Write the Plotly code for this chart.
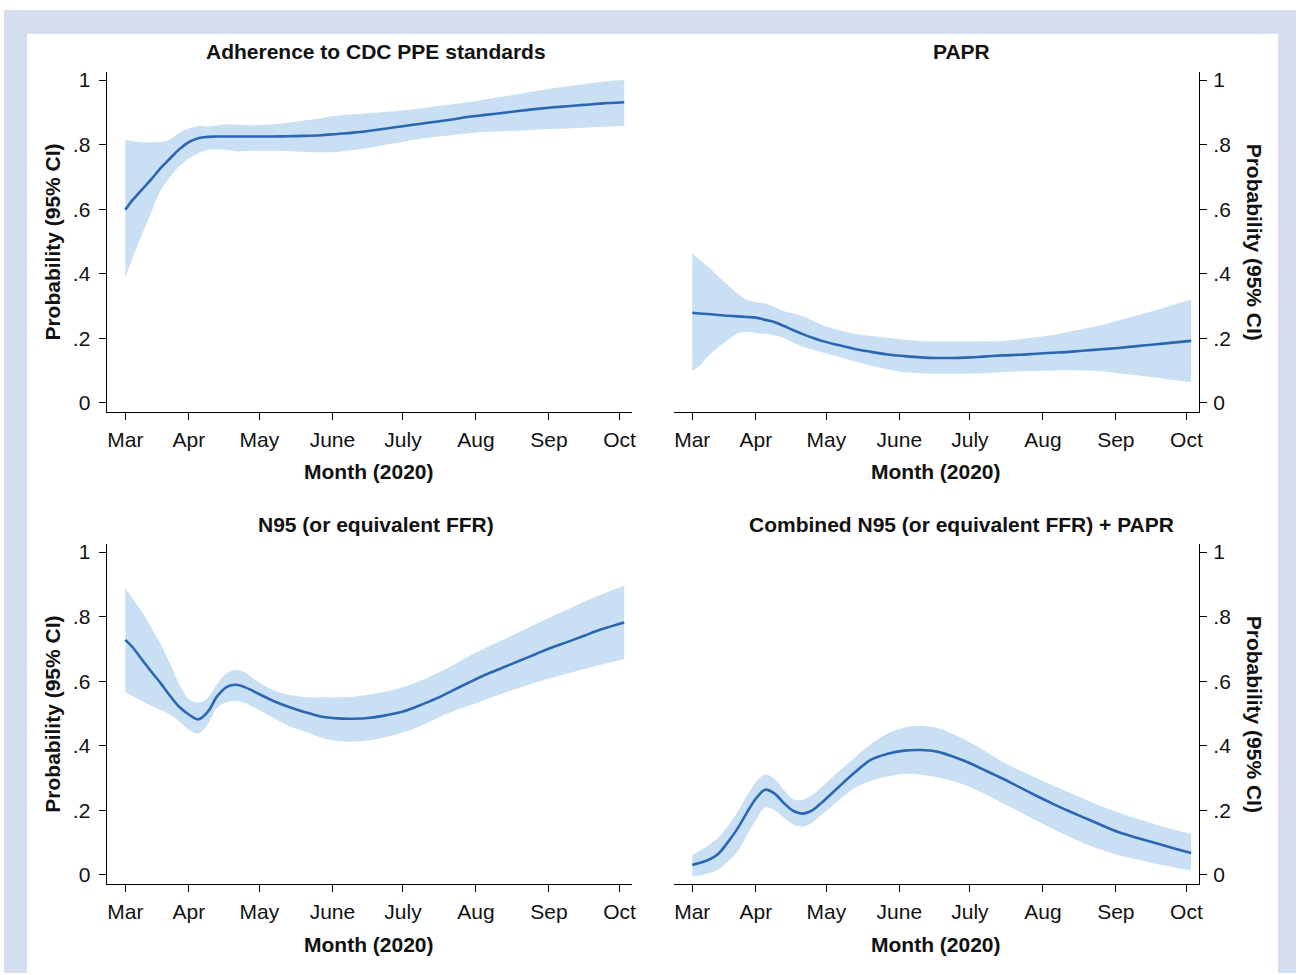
import plotly.graph_objects as go

# ---------------- data ----------------
dates = ["2020-03-05", "2020-03-08", "2020-03-12", "2020-03-16", "2020-03-20", "2020-03-24",
         "2020-03-28", "2020-04-01", "2020-04-05", "2020-04-09", "2020-04-13", "2020-04-17",
         "2020-04-21", "2020-04-25", "2020-04-29", "2020-05-06", "2020-05-13", "2020-05-20",
         "2020-05-27", "2020-06-03", "2020-06-10", "2020-06-17", "2020-06-24", "2020-07-01",
         "2020-07-08", "2020-07-15", "2020-07-22", "2020-07-29", "2020-08-05", "2020-08-12",
         "2020-08-19", "2020-08-26", "2020-09-02", "2020-09-09", "2020-09-16", "2020-09-23",
         "2020-10-03"]

adh_est = [0.598, 0.627, 0.660, 0.692, 0.727, 0.757, 0.786, 0.808, 0.820, 0.824, 0.825, 0.825,
           0.825, 0.825, 0.825, 0.825, 0.826, 0.827, 0.829,
           0.833, 0.837, 0.843, 0.850, 0.857, 0.864, 0.871, 0.878, 0.886, 0.892, 0.898, 0.904,
           0.910, 0.915, 0.919, 0.923, 0.927, 0.931]
adh_hi = [0.815, 0.811, 0.807, 0.807, 0.808, 0.816, 0.836, 0.850, 0.858, 0.856, 0.859, 0.863,
          0.862, 0.861, 0.860, 0.862, 0.868, 0.875, 0.882,
          0.890, 0.894, 0.898, 0.902, 0.906, 0.912, 0.919, 0.925, 0.932, 0.940, 0.948, 0.957,
          0.965, 0.974, 0.981, 0.988, 0.994, 1.000]
adh_lo = [0.385, 0.447, 0.520, 0.590, 0.658, 0.700, 0.734, 0.757, 0.773, 0.784, 0.786, 0.784,
          0.779, 0.780, 0.781, 0.781, 0.780, 0.777, 0.776,
          0.777, 0.783, 0.790, 0.800, 0.809, 0.817, 0.824, 0.830, 0.835, 0.839, 0.841, 0.843,
          0.846, 0.848, 0.850, 0.852, 0.855, 0.858]

papr_est = [0.279, 0.277, 0.275, 0.272, 0.270, 0.268, 0.266, 0.264, 0.257, 0.250, 0.238, 0.225,
            0.213, 0.202, 0.192, 0.179, 0.167, 0.158, 0.150,
            0.145, 0.141, 0.139, 0.139, 0.141, 0.144, 0.147, 0.149, 0.152, 0.155, 0.158, 0.162,
            0.166, 0.170, 0.175, 0.180, 0.185, 0.192]
papr_hi = [0.462, 0.445, 0.420, 0.392, 0.366, 0.340, 0.320, 0.312, 0.308, 0.296, 0.284, 0.277,
           0.268, 0.255, 0.242, 0.226, 0.214, 0.207, 0.202,
           0.196, 0.192, 0.190, 0.190, 0.190, 0.191, 0.192, 0.197, 0.203, 0.210, 0.220, 0.230,
           0.241, 0.255, 0.269, 0.283, 0.298, 0.320]
papr_lo = [0.098, 0.114, 0.146, 0.172, 0.194, 0.214, 0.220, 0.216, 0.214, 0.209, 0.201, 0.186,
           0.174, 0.165, 0.157, 0.143, 0.129, 0.115, 0.104,
           0.095, 0.092, 0.090, 0.090, 0.091, 0.092, 0.095, 0.098, 0.099, 0.100, 0.101, 0.100,
           0.098, 0.092, 0.086, 0.080, 0.073, 0.064]

n95_est = [0.728, 0.706, 0.668, 0.630, 0.594, 0.555, 0.520, 0.497, 0.482, 0.505, 0.553, 0.582,
           0.589, 0.581, 0.567, 0.542, 0.522, 0.505, 0.491,
           0.485, 0.484, 0.487, 0.495, 0.506, 0.525, 0.546, 0.571, 0.596, 0.620, 0.641, 0.662,
           0.683, 0.704, 0.722, 0.741, 0.760, 0.782]
n95_hi = [0.887, 0.857, 0.815, 0.766, 0.716, 0.654, 0.589, 0.545, 0.534, 0.548, 0.592, 0.625,
          0.635, 0.627, 0.605, 0.576, 0.559, 0.551, 0.550,
          0.550, 0.552, 0.559, 0.568, 0.581, 0.600, 0.623, 0.649, 0.677, 0.703, 0.727, 0.751,
          0.776, 0.800, 0.823, 0.846, 0.868, 0.896]
n95_lo = [0.566, 0.554, 0.539, 0.524, 0.511, 0.497, 0.475, 0.450, 0.438, 0.466, 0.518, 0.535,
          0.539, 0.532, 0.518, 0.490, 0.463, 0.445, 0.426,
          0.415, 0.413, 0.417, 0.427, 0.441, 0.460, 0.484, 0.506, 0.525, 0.543, 0.561, 0.578,
          0.595, 0.610, 0.624, 0.637, 0.651, 0.668]

comb_est = [0.031, 0.037, 0.047, 0.065, 0.100, 0.141, 0.190, 0.236, 0.264, 0.252, 0.222, 0.198,
            0.190, 0.200, 0.224, 0.271, 0.317, 0.357, 0.375,
            0.385, 0.387, 0.382, 0.366, 0.346, 0.322, 0.298, 0.272, 0.246, 0.221, 0.198, 0.176,
            0.154, 0.133, 0.117, 0.103, 0.088, 0.068]
comb_hi = [0.062, 0.074, 0.093, 0.115, 0.150, 0.192, 0.243, 0.287, 0.311, 0.297, 0.262, 0.234,
           0.233, 0.248, 0.273, 0.319, 0.363, 0.406, 0.438,
           0.456, 0.462, 0.455, 0.436, 0.411, 0.381, 0.350, 0.324, 0.301, 0.278, 0.256, 0.234,
           0.213, 0.193, 0.176, 0.161, 0.146, 0.127]
comb_lo = [-0.004, -0.002, 0.005, 0.017, 0.041, 0.070, 0.120, 0.169, 0.209, 0.200, 0.177, 0.156,
           0.149, 0.162, 0.186, 0.230, 0.269, 0.292, 0.305,
           0.313, 0.310, 0.303, 0.290, 0.272, 0.248, 0.222, 0.196, 0.169, 0.143, 0.119, 0.096,
           0.078, 0.061, 0.049, 0.038, 0.027, 0.014]

titles = ["Adherence to CDC PPE standards", "PAPR",
          "N95 (or equivalent FFR)", "Combined N95 (or equivalent FFR) + PAPR"]

tick_dates = ["2020-03-05", "2020-04-01", "2020-05-01", "2020-06-01",
              "2020-07-01", "2020-08-01", "2020-09-01", "2020-10-01"]
tick_months = ["Mar", "Apr", "May", "June", "July", "Aug", "Sep", "Oct"]
y_ticks = [0, 0.2, 0.4, 0.6, 0.8, 1]
y_ticktext = ["0", ".2", ".4", ".6", ".8", "1"]

x_title = "Month (2020)"
y_title = "Probability (95% CI)"

# ---------------- styling ----------------
W, H = 1300, 975
FONT = "Liberation Sans, Arial, Helvetica, sans-serif"
LINE_COLOR = "#2a66b1"
BAND_COLOR = "#c9e0f4"
FRAME_COLOR = "#d5deef"
TXT = "#111111"


def px(x):
    return x / W


def py(y):
    return 1 - y / H


fig = go.Figure()

panels = [
    (adh_est, adh_lo, adh_hi, "x", "y"),
    (papr_est, papr_lo, papr_hi, "x2", "y2"),
    (n95_est, n95_lo, n95_hi, "x3", "y3"),
    (comb_est, comb_lo, comb_hi, "x4", "y4"),
]

for est, lo, hi, xa, ya in panels:
    fig.add_trace(go.Scatter(x=dates, y=lo, mode="lines", line=dict(width=0, shape="spline"),
                             xaxis=xa, yaxis=ya, showlegend=False, hoverinfo="skip"))
    fig.add_trace(go.Scatter(x=dates, y=hi, mode="lines", line=dict(width=0, shape="spline"),
                             fill="tonexty", fillcolor=BAND_COLOR,
                             xaxis=xa, yaxis=ya, showlegend=False, hoverinfo="skip"))
    fig.add_trace(go.Scatter(x=dates, y=est, mode="lines",
                             line=dict(width=2.6, color=LINE_COLOR, shape="spline"),
                             xaxis=xa, yaxis=ya, showlegend=False))

x_range = ["2020-02-26 02:00", "2020-10-06 08:00"]
y_range = [-0.028, 1.026]

xcommon = dict(type="date", range=x_range, tickvals=tick_dates, ticktext=tick_months,
               ticks="outside", ticklen=7, tickwidth=1.3, tickcolor="black",
               showline=True, linecolor="black", linewidth=1.3, showgrid=False, zeroline=False,
               tickfont=dict(size=21, family=FONT, color=TXT), ticklabelstandoff=2)
ycommon = dict(range=y_range, tickvals=y_ticks, ticktext=y_ticktext,
               ticks="outside", ticklen=7, tickwidth=1.3, tickcolor="black",
               showline=True, linecolor="black", linewidth=1.3, showgrid=False, zeroline=False,
               tickfont=dict(size=21, family=FONT, color=TXT))

left_dom = [px(107), px(634)]
right_dom = [px(675.7), px(1202.7)]
top_dom = [py(411), py(69)]
bot_dom = [py(885.5), py(543.5)]

fig.update_layout(
    width=W, height=H,
    margin=dict(l=0, r=0, t=0, b=0),
    paper_bgcolor="white", plot_bgcolor="rgba(0,0,0,0)",
    font=dict(family=FONT, color=TXT),
    xaxis=dict(domain=left_dom, anchor="y", **xcommon),
    yaxis=dict(domain=top_dom, anchor="x", side="left", ticklabelstandoff=4, **ycommon),
    xaxis2=dict(domain=right_dom, anchor="y2", **xcommon),
    yaxis2=dict(domain=top_dom, anchor="x2", side="right", ticklabelstandoff=2, **ycommon),
    xaxis3=dict(domain=left_dom, anchor="y3", **xcommon),
    yaxis3=dict(domain=bot_dom, anchor="x3", side="left", ticklabelstandoff=4, **ycommon),
    xaxis4=dict(domain=right_dom, anchor="y4", **xcommon),
    yaxis4=dict(domain=bot_dom, anchor="x4", side="right", ticklabelstandoff=2, **ycommon),
    shapes=[
        dict(type="rect", xref="paper", yref="paper", x0=px(4), x1=1.0, y0=0, y1=py(7),
             fillcolor=FRAME_COLOR, line=dict(width=0), layer="below"),
        dict(type="rect", xref="paper", yref="paper", x0=px(27), x1=px(1282), y0=0, y1=py(31),
             fillcolor="white", line=dict(width=0), layer="below"),
    ],
)

ann = []
title_pos = [(377, 49), (964, 49), (377, 524), (964, 524)]
for t, (x, y) in zip(titles, title_pos):
    ann.append(dict(text="<b>" + t + "</b>", x=px(x), y=py(y), xref="paper", yref="paper",
                    showarrow=False, xanchor="center", yanchor="middle",
                    font=dict(size=21, family=FONT, color=TXT)))
for x, y in [(370.5, 471), (939.2, 471), (370.5, 946), (939.2, 946)]:
    ann.append(dict(text="<b>" + x_title + "</b>", x=px(x), y=py(y), xref="paper", yref="paper",
                    showarrow=False, xanchor="center", yanchor="middle",
                    font=dict(size=21, family=FONT, color=TXT)))
for x, y, ang in [(53, 240, -90), (1258, 240, 90), (53, 714.5, -90), (1258, 714.5, 90)]:
    ann.append(dict(text="<b>" + y_title + "</b>", x=px(x), y=py(y), xref="paper", yref="paper",
                    showarrow=False, xanchor="center", yanchor="middle", textangle=ang,
                    font=dict(size=21, family=FONT, color=TXT)))
fig.update_layout(annotations=ann)

fig.write_html("out.html", config={"displayModeBar": False},
               post_script="document.body.style.margin='0';document.body.style.overflow='hidden';")
